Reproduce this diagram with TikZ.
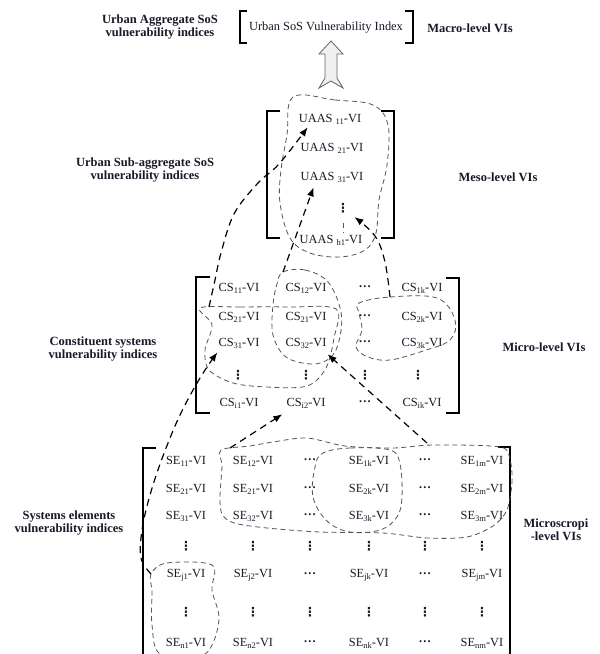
\documentclass[tikz,border=0pt]{standalone}
\usepackage{fontspec}
\setmainfont{Liberation Serif}
\newfontfamily\dotsfont{DejaVu Sans}
\usetikzlibrary{arrows.meta,calc}
\definecolor{ink}{RGB}{25,25,40}
\definecolor{blobc}{RGB}{85,85,85}
\definecolor{hollow}{RGB}{240,240,240}
% index label such as CS_{11}-VI
\newcommand\myvi[2]{#1\raisebox{-0.35ex}{\fontsize{8.5}{9}\selectfont #2}-VI}
\newcommand\uaas[1]{UAAS\ \raisebox{-0.35ex}{\fontsize{8.5}{9}\selectfont #1}-VI}
% compact bold ellipses, horizontal and vertical
\newcommand\hdts{\raisebox{0.3em}{\bfseries .\kern1.2pt.\kern1.2pt.}}
\newcommand\vdts{{\dotsfont\bfseries ⋮}}
\tikzset{
  item/.style={inner sep=0pt, text=ink, font=\fontsize{12.4}{14}\selectfont},
  lbl/.style={inner sep=0pt, text=ink, align=center, font=\bfseries\fontsize{12.5}{13}\selectfont},
  brk/.style={draw=black, line width=1.4pt},
  blob/.style={draw=blobc, dash pattern=on 5pt off 3.5pt, line width=0.8pt},
  link/.style={draw=black, line width=1.2pt, dash pattern=on 7pt off 5pt, -{Latex[length=9pt,width=7pt]}},
  bigarrow/.style={draw=black!60, fill=hollow, line width=0.8pt, line join=miter}
}
\begin{document}
\begin{tikzpicture}[x=1pt,y=-1pt]
\useasboundingbox (0,0) rectangle (600,654);
\fill[white] (0,0) rectangle (600,654);

% ---------- macro level ----------
\node[lbl] (lab-agg) at (160,27) {Urban Aggregate SoS\\vulnerability indices};
\node[item] (usvi) at (326,28) {Urban SoS Vulnerability Index};
\node[lbl] (lab-macro) at (470,28) {Macro-level VIs};
\draw[brk] (247,11) -- (240,11) -- (240,43) -- (247,43);
\draw[brk] (405,11) -- (413,11) -- (413,43) -- (405,43);

% hollow aggregation arrow
\draw[bigarrow] (331,41) -- (343,54) -- (337,54) -- (337,78) -- (343,88) -- (331,81)
  -- (319,88) -- (325,78) -- (325,54) -- (319,54) -- cycle;

% ---------- meso level ----------
\node[lbl] (lab-sub) at (145,170) {Urban Sub-aggregate SoS\\vulnerability indices};
\node[lbl] (lab-meso) at (498,177) {Meso-level VIs};
\draw[brk] (280,111) -- (267,111) -- (267,238) -- (280,238);
\draw[brk] (381,111) -- (394,111) -- (394,238) -- (381,238);
\node[item] (u1) at (330,119) {\uaas{11}};
\node[item] (u2) at (332,148) {\uaas{21}};
\node[item] (u3) at (332,177) {\uaas{31}};
\node[item] (u4) at (343,208) {\vdts};
\node[item] (u5) at (331,240) {\uaas{h1}};
\draw[blob] (343,223) -- (343,233);

\draw[blob] plot[smooth cycle, tension=0.6] coordinates {
  (293,97) (335,100) (373,105) (388,125) (387,165) (379,200) (376,233)
  (365,250) (340,257) (310,253) (290,238) (280,203) (281,170) (287,135)};

% ---------- micro level ----------
\node[lbl] (lab-cs) at (103,349) {Constituent systems\\vulnerability indices};
\node[lbl] (lab-micro) at (544,347) {Micro-level VIs};
\draw[brk] (210,277) -- (196,277) -- (196,413) -- (210,413);
\draw[brk] (446,278) -- (459,278) -- (459,413) -- (446,413);

\foreach \y/\r in {288/1,317/2,343/3,403/i} {
  \node[item] (cs-\r-1) at (239,\y) {\myvi{CS}{\r1}};
  \node[item] (cs-\r-3) at (365,\y) {\hdts};
  \node[item] (cs-\r-4) at (422,\y) {\myvi{CS}{\r k}};
}
\foreach \y/\r/\s in {288/1/12,317/2/21,343/3/32,403/i/i2}
  \node[item] (cs-\r-2) at (306,\y) {\myvi{CS}{\s}};
\foreach \x [count=\c] in {238,306,365,418}
  \node[item] (cs-v-\c) at (\x,375) {\vdts};

% groupings of constituent systems
\draw[blob] plot[smooth cycle, tension=0.55] coordinates {
  (200,308) (240,307) (290,307) (336,309) (334,338) (326,368) (307,386)
  (267,387) (233,383) (209,370) (205,350) (212,325)};
\draw[blob] plot[smooth cycle, tension=0.6] coordinates {
  (283,272) (305,270) (328,282) (341,312) (339,341) (330,358) (312,364)
  (286,357) (273,335) (273,305) (277,284)};
\draw[blob] plot[smooth cycle, tension=0.6] coordinates {
  (359,303) (390,297) (437,298) (455,320) (450,340) (423,351) (390,360)
  (368,357) (356,347) (362,330) (359,313)};

% ---------- microscopic level ----------
\node[lbl] (lab-se) at (69,523) {Systems elements\\vulnerability indices};
\node[lbl] (lab-micros) at (556,530) {Microscropi\\-level VIs};
\draw[brk] (156,448) -- (143,448) -- (143,662);
\draw[brk] (498,447) -- (510,447) -- (510,662);

\foreach \y/\r in {461/1,489/2,516/3,575/j,643/n} {
  \node[item] (se-\r-1) at (186,\y) {\myvi{SE}{\r1}};
  \node[item] (se-\r-3) at (310,\y) {\hdts};
  \node[item] (se-\r-4) at (369,\y) {\myvi{SE}{\r k}};
  \node[item] (se-\r-5) at (425,\y) {\hdts};
  \node[item] (se-\r-6) at (482,\y) {\myvi{SE}{\r m}};
}
\foreach \y/\r/\s in {461/1/12,489/2/21,516/3/32,575/j/j2,643/n/n2}
  \node[item] (se-\r-2) at (253,\y) {\myvi{SE}{\s}};
\foreach \y/\v in {546/a,612/b}
  \foreach \x [count=\c] in {186,253,310,369,425,482}
    \node[item] (se-\v-\c) at (\x,\y) {\vdts};

% groupings of system elements
\draw[blob] plot[smooth cycle, tension=0.55] coordinates {
  (151,574) (167,563) (212,565) (212,590) (219,617) (213,643) (200,656)
  (160,654) (152,625) (152,592)};
\draw[blob] plot[smooth cycle, tension=0.5] coordinates {
  (221,450) (250,446) (273,442) (307,438) (345,446) (393,448) (433,445)
  (500,447) (510,460) (512,482) (507,510) (493,526) (467,537) (427,538)
  (383,533) (320,532) (267,528) (234,523) (222,514) (220,497) (222,466)};
\draw[blob] plot[smooth cycle, tension=0.6] coordinates {
  (323,453) (350,448) (390,450) (400,464) (402,497) (397,517) (380,530)
  (350,532) (327,521) (313,497) (315,467)};

% ---------- aggregation links ----------
\coordinate (g-j1) at (151,574);
\coordinate (g-se2) at (230,448);
\coordinate (g-sem) at (427,443);
\coordinate (g-csl) at (209,307);
\coordinate (g-csm) at (283,272);
\coordinate (g-csr) at (390,297);
\coordinate (t-cs31) at ($(cs-3-1.south west)+(-1,4)$);
\coordinate (t-csi2) at ($(cs-i-2.south west)+(-4,6)$);
\coordinate (t-csm) at ($(cs-3-2.south east)+(1,6)$);
\coordinate (t-u1) at ($(u1.south west)+(9,3)$);
\coordinate (t-u3) at ($(u3.south west)+(13,5)$);
\coordinate (t-u4) at ($(u4.south east)+(5,4)$);

\draw[link] plot[smooth, tension=0.6] coordinates {
  (g-j1) (141,558) (142,530) (150,495) (163,456) (180,415) (200,378) (t-cs31)};
\draw[link] (g-se2) -- (t-csi2);
\draw[link] (g-sem) -- (t-csm);
\draw[link] plot[smooth, tension=0.6] coordinates {
  (g-csl) (215,280) (221,253) (234,214) (258,183) (279,164) (t-u1)};
\draw[link] (g-csm) -- (t-u3);
\draw[link] plot[smooth, tension=0.6] coordinates {
  (g-csr) (385,262) (375,236) (t-u4)};
\end{tikzpicture}
\end{document}
